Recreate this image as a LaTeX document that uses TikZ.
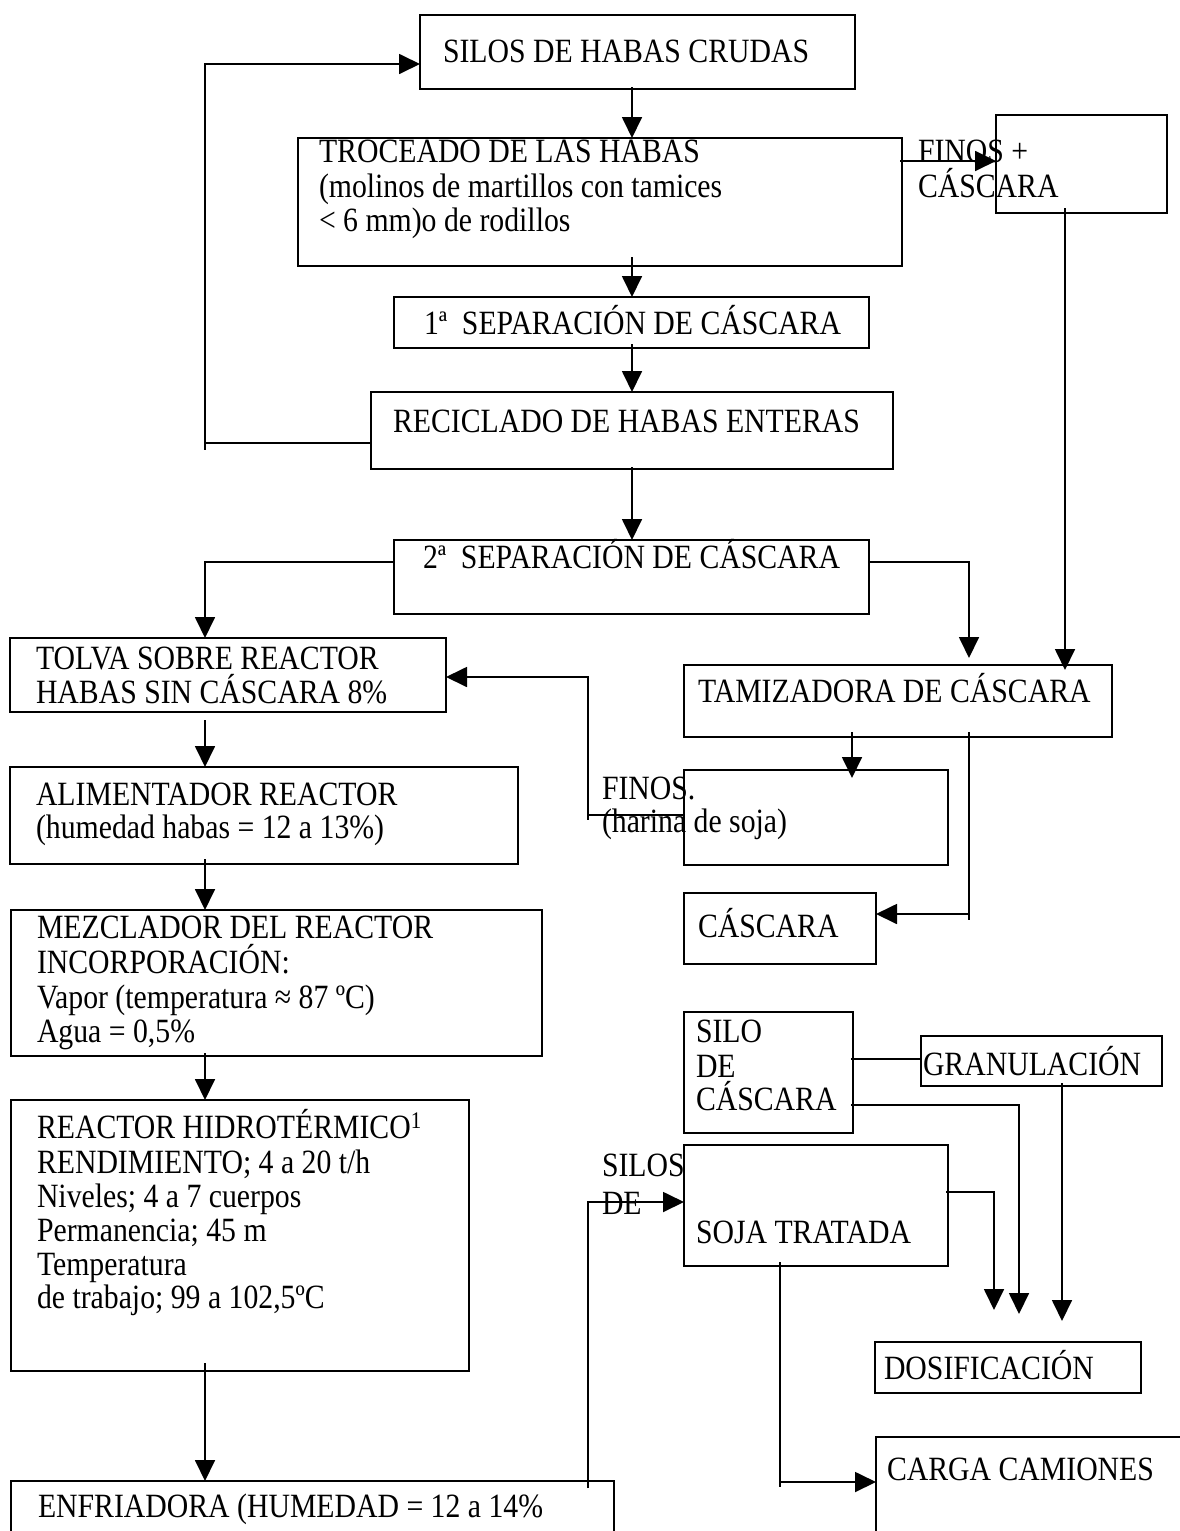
\documentclass[tikz,border=0pt]{standalone}
\usepackage{fontspec}
\setmainfont[FakeStretch=0.875]{Liberation Serif}
\usetikzlibrary{arrows.meta}
\begin{document}
\begin{tikzpicture}[x=1pt,y=-1pt,
  box/.style={draw, line width=1.8pt, rectangle, inner sep=0pt, outer sep=0pt, anchor=north west},
  lbl/.style={anchor=base west, inner sep=0pt, outer sep=0pt, font=\fontsize{34}{38}\selectfont},
  conn/.style={line width=1.8pt},
  arr/.style={conn, -{Triangle[length=21pt,width=20pt]}}
]
\fill[white] (0,0) rectangle (1180,1531);
\path[use as bounding box] (0,0) rectangle (1180,1531);
\clip (0,0) rectangle (1180,1531);

% ---------- boxes ----------
\node[box, minimum width=435pt, minimum height=74pt]  (silos)   at (420,15)   {};
\node[box, minimum width=604pt, minimum height=128pt] (troc)    at (298,138)  {};
\node[box, minimum width=171pt, minimum height=98pt]  (finosc)  at (996,115)  {};
\node[box, minimum width=475pt, minimum height=51pt]  (sepa)    at (394,297)  {};
\node[box, minimum width=522pt, minimum height=77pt]  (recic)   at (371,392)  {};
\node[box, minimum width=475pt, minimum height=74pt]  (sepb)    at (394,540)  {};
\node[box, minimum width=436pt, minimum height=74pt]  (tolva)   at (10,638)   {};
\node[box, minimum width=428pt, minimum height=72pt]  (tamiz)   at (684,665)  {};
\node[box, minimum width=508pt, minimum height=97pt]  (alim)    at (10,767)   {};
\node[box, minimum width=264pt, minimum height=95pt]  (finosh)  at (684,770)  {};
\node[box, minimum width=192pt, minimum height=71pt]  (cascara) at (684,893)  {};
\node[box, minimum width=531pt, minimum height=146pt] (mezcl)   at (11,910)   {};
\node[box, minimum width=169pt, minimum height=121pt] (silocas) at (684,1012) {};
\node[box, minimum width=241pt, minimum height=50pt]  (granul)  at (921,1036) {};
\node[box, minimum width=458pt, minimum height=271pt] (reactor) at (11,1100)  {};
\node[box, minimum width=264pt, minimum height=121pt] (soja)    at (684,1145) {};
\node[box, minimum width=266pt, minimum height=51pt]  (dosif)   at (875,1342) {};
\node[box, minimum width=324pt, minimum height=123pt] (carga)   at (876,1437) {};
\node[box, minimum width=603pt, minimum height=79pt]  (enfr)    at (11,1481)  {};

% ---------- texts ----------
\node[lbl] (tsilos) at (443,62) {SILOS DE HABAS CRUDAS};
\node[lbl] (ttroca) at (319,162) {TROCEADO DE LAS HABAS};
\node[lbl] (ttrocb) at (319,197) {(molinos de martillos con tamices};
\node[lbl] (ttrocc) at (319,231) {< 6 mm)o de rodillos};
\node[lbl] (tfinca) at (918,162) {FINOS +};
\node[lbl] (tfincb) at (918,197) {CÁSCARA};
\node[lbl] (tsepa)  at (424,334) {1ª~ SEPARACIÓN DE CÁSCARA};
\node[lbl] (trecic) at (393,432) {RECICLADO DE HABAS ENTERAS};
\node[lbl] (tsepb)  at (423,568) {2ª~ SEPARACIÓN DE CÁSCARA};
\node[lbl] (ttolva) at (36,669) {TOLVA SOBRE REACTOR};
\node[lbl] (ttolvb) at (36,703) {HABAS SIN CÁSCARA 8\%};
\node[lbl] (ttamiz) at (698,702) {TAMIZADORA DE CÁSCARA};
\node[lbl] (talima) at (36,805) {ALIMENTADOR REACTOR};
\node[lbl] (talimb) at (36,838) {(humedad habas = 12 a 13\%)};
\node[lbl] (tfinha) at (602,799) {FINOS.};
\node[lbl] (tfinhb) at (602,832) {(harina de soja)};
\node[lbl] (tcasc)  at (698,937) {CÁSCARA};
\node[lbl] (tmeza)  at (37,938)  {MEZCLADOR DEL REACTOR};
\node[lbl] (tmezb)  at (37,973)  {INCORPORACIÓN:};
\node[lbl] (tmezc)  at (37,1008) {Vapor (temperatura ≈ 87 ºC)};
\node[lbl] (tmezd)  at (37,1042) {Agua = 0,5\%};
\node[lbl] (tsca)   at (696,1042) {SILO};
\node[lbl] (tscb)   at (696,1077) {DE};
\node[lbl] (tscc)   at (696,1110) {CÁSCARA};
\node[lbl] (tgran)  at (923,1075) {GRANULACIÓN};
\node[lbl] (treaa)  at (37,1138) {REACTOR HIDROTÉRMICO\textsuperscript{1}};
\node[lbl] (treab)  at (37,1173) {RENDIMIENTO; 4 a 20 t/h};
\node[lbl] (treac)  at (37,1207) {Niveles; 4 a 7 cuerpos};
\node[lbl] (tread)  at (37,1241) {Permanencia; 45 m};
\node[lbl] (treae)  at (37,1275) {Temperatura};
\node[lbl] (treaf)  at (37,1308) {de trabajo; 99 a 102,5ºC};
\node[lbl] (tsila)  at (602,1176) {SILOS};
\node[lbl] (tsilb)  at (602,1214) {DE};
\node[lbl] (tsoja)  at (696,1243) {SOJA TRATADA};
\node[lbl] (tdosif) at (884,1379) {DOSIFICACIÓN};
\node[lbl] (tcarga) at (887,1480) {CARGA CAMIONES};
\node[lbl] (tenfr)  at (38,1517) {ENFRIADORA (HUMEDAD = 12 a 14\%};

% ---------- coordinates for connector bends / free ends ----------
\coordinate (a1) at (632,87);
\coordinate (a2) at (632,257);
\coordinate (a3) at (632,344);
\coordinate (a4) at (632,467);
\coordinate (k0) at (205,450);
\coordinate (k1) at (205,443);
\coordinate (k2) at (205,64);
\coordinate (f0) at (900,161);
\coordinate (f1) at (1065,208);
\coordinate (f2) at (1065,670);
\coordinate (m1) at (205,562);
\coordinate (m2) at (969,562);
\coordinate (m3) at (969,658);
\coordinate (b1) at (205,720);
\coordinate (b2) at (205,859);
\coordinate (b3) at (205,1053);
\coordinate (b4) at (205,1363);
\coordinate (h0) at (588,820);
\coordinate (h1) at (588,815);
\coordinate (h2) at (588,677);
\coordinate (t1) at (852,732);
\coordinate (t2) at (852,778);
\coordinate (t3) at (969,732);
\coordinate (t4) at (969,914);
\coordinate (t5) at (969,920);
\coordinate (s1) at (588,1488);
\coordinate (s2) at (588,1202);
\coordinate (g1) at (851,1059);
\coordinate (g2) at (851,1105);
\coordinate (g3) at (1019,1105);
\coordinate (g4) at (1019,1314);
\coordinate (g5) at (1062,1083);
\coordinate (g6) at (1062,1321);
\coordinate (g7) at (946,1192);
\coordinate (g8) at (994,1192);
\coordinate (g9) at (994,1310);
\coordinate (c1) at (780,1262);
\coordinate (c2) at (780,1482);
\coordinate (c3) at (780,1487);

% ---------- connectors ----------
\draw[arr] (a1) -- (troc.north -| a1);
\draw[arr] (a2) -- (sepa.north -| a2);
\draw[arr] (a3) -- (recic.north -| a3);
\draw[arr] (a4) -- (sepb.north -| a4);
\draw[arr] (recic.west |- k1) -- (k1) -- (k2) -- (silos.west |- k2);
\draw[conn] (k1) -- (k0);
\draw[arr] (f0) -- (finosc.west |- f0);
\draw[arr] (f1) -- (f2);
\draw[arr] (sepb.west |- m1) -- (m1) -- (tolva.north -| m1);
\draw[arr] (sepb.east |- m2) -- (m2) -- (m3);
\draw[arr] (b1) -- (alim.north -| b1);
\draw[arr] (b2) -- (mezcl.north -| b2);
\draw[arr] (b3) -- (reactor.north -| b3);
\draw[arr] (b4) -- (enfr.north -| b4);
\draw[arr] (finosh.west |- h1) -- (h1) -- (h2) -- (tolva.east |- h2);
\draw[conn] (h1) -- (h0);
\draw[arr] (t1) -- (t2);
\draw[arr] (t3) -- (t4) -- (cascara.east |- t4);
\draw[conn] (t4) -- (t5);
\draw[arr] (s1) -- (s2) -- (soja.west |- s2);
\draw[conn] (g1) -- (granul.west |- g1);
\draw[arr] (g2) -- (g3) -- (g4);
\draw[arr] (g5) -- (g6);
\draw[arr] (g7) -- (g8) -- (g9);
\draw[arr] (c1) -- (c2) -- (carga.west |- c2);
\draw[conn] (c2) -- (c3);
\end{tikzpicture}
\end{document}
